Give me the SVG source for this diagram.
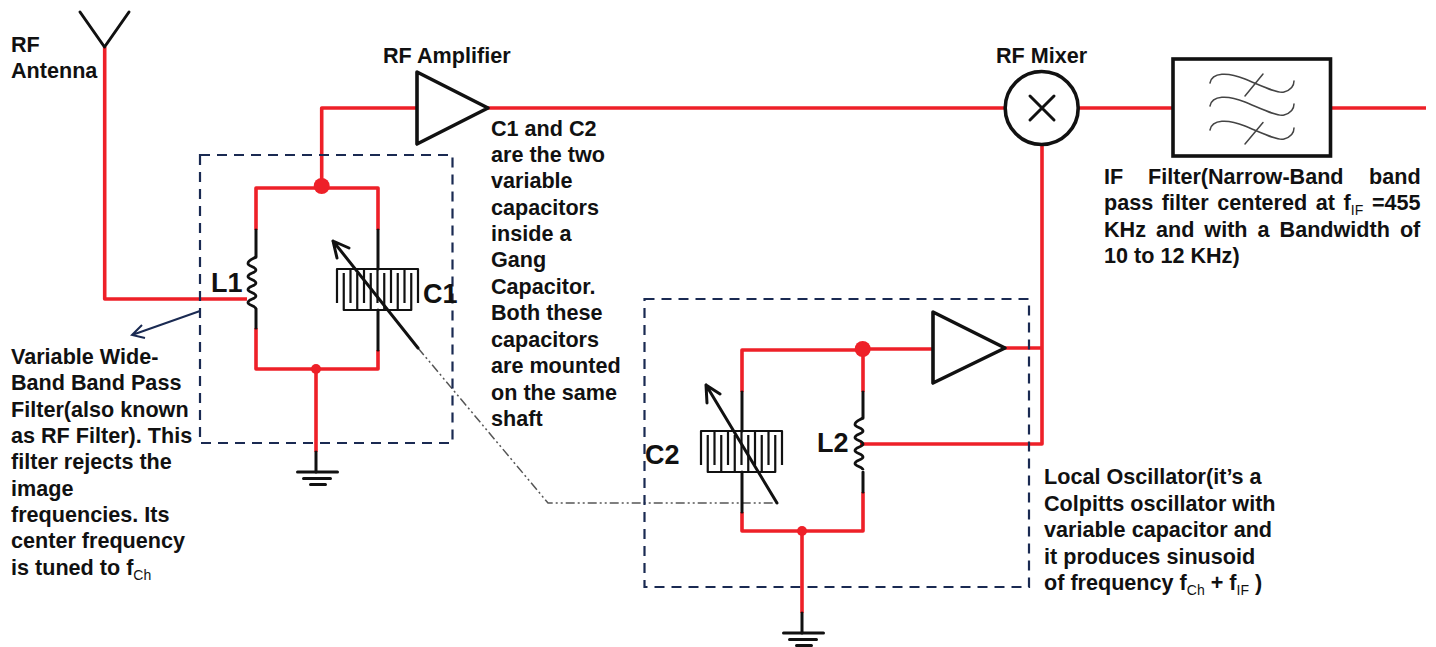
<svg xmlns="http://www.w3.org/2000/svg" width="1436" height="647" viewBox="0 0 1436 647">
<style>
text{font-family:"Liberation Sans",Arial,sans-serif;font-weight:700;fill:#111;font-size:21.6px}
.big{font-size:27px}
.sub{font-size:14px;font-weight:400}
.r{fill:none;stroke:#ee2028;stroke-width:3.6;stroke-linejoin:round}
.k{fill:none;stroke:#111;stroke-width:3;stroke-linejoin:round;stroke-linecap:round}
.t{fill:#fff;stroke:#111;stroke-width:3.6;stroke-linejoin:round}
.c{fill:none;stroke:#111;stroke-width:2.2;stroke-linejoin:round}
.d{fill:none;stroke:#1a2a52;stroke-width:2.2;stroke-dasharray:10 7}
.dot{fill:#ee2028}
.s{fill:none;stroke:#444;stroke-width:1.5;stroke-linecap:round}
</style>
<defs>
<path id="comb" class="c" d="M0 16V-18H81V16M6.750 -14V23H74.250V-14M13.500 -18V16M20.250 -14V23M27 -18V16M33.750 -14V23M40.500 -18V16M47.250 -14V23M54 -18V16M60.750 -14V23M67.500 -18V16"/>
<path id="coil" class="c" style="stroke-width:2.8" d="M0 0c-3 2 -8 3 -8 6.500c0 3 8 3 8 6.500c0 3 -8 3 -8 6.500c0 3 8 3 8 6.500c0 3 -8 3 -8 6.500c0 3 8 3 8 6.500c0 3 -8 3 -8 6.500c0 3 8 3 8 6.500"/>
<g id="gnd" class="k"><path d="M-20 0H20M-14 6.500H13M-7 12.500H8" fill="none"/></g>
</defs>
<g id="connectors">
<path class="r" d="M104.700 47V299H247"/>
<path class="r" d="M321.700 186V108H417"/>
<path class="r" d="M488 108H1005"/>
<path class="r" d="M1079 108H1173"/>
<path class="r" d="M1330 108H1426"/>
<path class="r" d="M1042 145V444H860"/>
<path class="r" d="M1005 348H1042"/>
<path class="r" d="M863 349H933"/>
<path d="M418 348L548 503H778" fill="none" stroke="#555" stroke-width="1.500" stroke-dasharray="9 3 2 3 2 3"/>
<path d="M200 311L132 335M142 325L132 335L145 338" fill="none" stroke="#1a2a52" stroke-width="2"/>
</g>
<g id="rf-antenna">
<path class="k" d="M80 12L104.500 47L129 12"/>
<text x="11" y="52">RF</text><text x="11" y="78">Antenna</text>
</g>
<g id="rf-amplifier">
<path class="t" d="M417 72L488 108L417 144Z"/>
<text x="383" y="63">RF Amplifier</text>
</g>
<g id="rf-mixer">
<circle cx="1041.700" cy="108" r="36.500" fill="#fff" stroke="#111" stroke-width="3.600"/>
<path class="k" d="M1030 96L1054 120M1054 96L1030 120"/>
<text x="996" y="63">RF Mixer</text>
</g>
<g id="if-filter">
<rect x="1173" y="59" width="157.500" height="97" fill="#fff" stroke="#111" stroke-width="3.600"/>
<path class="s" d="M1210 83C1212 72 1228 72 1245 79S1278 94 1284 92C1291 90 1294 86 1294 81"/>
<path class="s" d="M1210 106C1212 95 1228 95 1245 102S1278 117 1284 115C1291 113 1294 109 1294 104"/>
<path class="s" d="M1210 130C1212 119 1228 119 1245 126S1278 141 1284 139C1291 137 1294 133 1294 128"/>
<path class="s" d="M1245 96L1263 74M1245 144L1263 122.500"/>
<text y="183.500"><tspan x="1104">IF</tspan><tspan x="1148">Filter(Narrow-Band</tspan><tspan x="1369">band</tspan></text>
<text x="1104" y="210" word-spacing="2.600">pass filter centered at f<tspan class="sub" dy="5">IF</tspan><tspan dy="-5"> =455</tspan></text>
<text x="1104" y="237" word-spacing="4">KHz and with a Bandwidth of</text>
<text x="1104" y="263">10 to 12 KHz)</text>
</g>
<g id="rf-filter">
<rect class="d" x="200" y="155" width="252.500" height="288"/>
<path class="r" d="M256 230V188H378V230"/>
<path class="r" d="M256 328V369H378V350"/>
<path class="r" d="M316 369V452"/>
<circle class="dot" cx="321.700" cy="186" r="8"/>
<circle class="dot" cx="316" cy="369" r="5"/>
<path class="k" d="M256 230V257M256 309V328M378 230V269M378 310V350M316 452V472"/>
<use href="#coil" x="256" y="257"/>
<use href="#comb" x="337" y="287"/>
<path class="k" d="M418 348L333 241M333 241L337 258M333 241L349 248"/>
<use href="#gnd" x="317.500" y="472"/>
<text class="big" x="211" y="292">L1</text>
<text class="big" x="423" y="303">C1</text>
</g>
<g id="local-oscillator">
<rect class="d" x="644.500" y="299" width="384.500" height="288"/>
<path class="r" d="M742 392V350H863V392"/>
<path class="r" d="M863 492V531H742V512"/>
<path class="r" d="M802 531V613"/>
<circle class="dot" cx="862.700" cy="349" r="8"/>
<circle class="dot" cx="802" cy="531" r="5"/>
<path class="k" d="M742 392V431M742 472V512M863 392V418M863 472V492M802 613V633"/>
<use href="#coil" x="863" y="418"/>
<use href="#comb" x="701" y="449"/>
<path class="k" d="M777 503L706 385M706 385L707 403M706 385L720 394"/>
<path class="t" d="M933 312L1005 348L933 383Z"/>
<use href="#gnd" x="803.500" y="633"/>
<text class="big" x="645" y="464">C2</text>
<text class="big" x="817" y="452">L2</text>
</g>
<g id="notes">
<text x="11" y="364">Variable Wide-</text>
<text x="11" y="390">Band Band Pass</text>
<text x="11" y="416.500">Filter(also known</text>
<text x="11" y="442.500">as RF Filter). This</text>
<text x="11" y="469">filter rejects the</text>
<text x="11" y="495.500">image</text>
<text x="11" y="521.500">frequencies. Its</text>
<text x="11" y="548">center frequency</text>
<text x="11" y="575">is tuned to f<tspan class="sub" dy="5">Ch</tspan></text>
<text x="491" y="136">C1 and C2</text>
<text x="491" y="162">are the two</text>
<text x="491" y="188">variable</text>
<text x="491" y="214.500">capacitors</text>
<text x="491" y="241">inside a</text>
<text x="491" y="267">Gang</text>
<text x="491" y="294">Capacitor.</text>
<text x="491" y="320">Both these</text>
<text x="491" y="346.500">capacitors</text>
<text x="491" y="373">are mounted</text>
<text x="491" y="399.500">on the same</text>
<text x="491" y="426">shaft</text>
<text x="1044" y="484">Local Oscillator(it’s a</text>
<text x="1044" y="510.500">Colpitts oscillator with</text>
<text x="1044" y="537">variable capacitor and</text>
<text x="1044" y="563.500">it produces sinusoid</text>
<text x="1044" y="590">of frequency f<tspan class="sub" dy="5">Ch</tspan><tspan dy="-5"> + f</tspan><tspan class="sub" dy="5">IF</tspan><tspan dy="-5"> )</tspan></text>
</g>
</svg>
